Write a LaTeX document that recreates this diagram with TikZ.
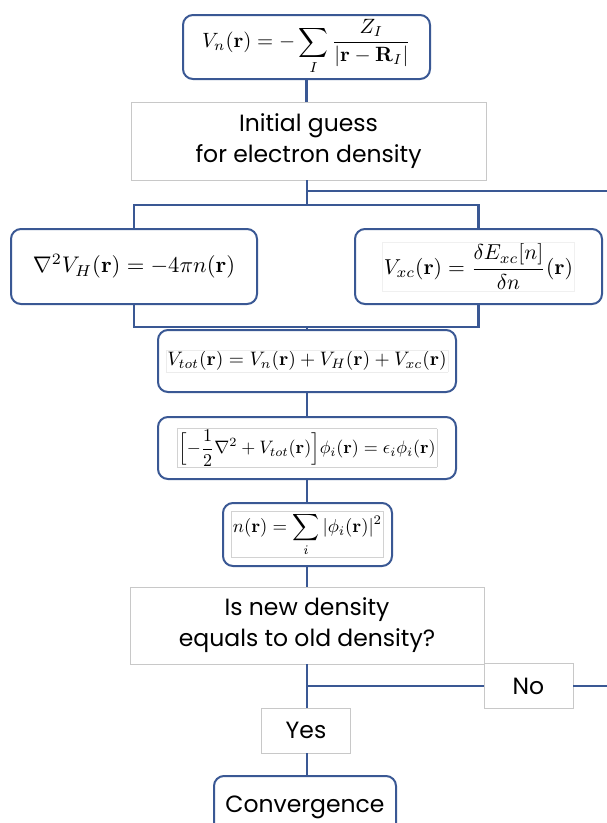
\documentclass[tikz,border=0pt]{standalone}
\usepackage{graphicx}
\usepackage{amsmath}
\usepackage[no-math]{fontspec}
\setmainfont{Poppins}
\definecolor{lineblue}{RGB}{58,88,148}
\definecolor{boxgray}{RGB}{200,200,200}
\newcommand{\gframe}[2]{{\setlength{\fboxrule}{0.4pt}\setlength{\fboxsep}{1.2pt}\fcolorbox{#1}{white}{#2}}}
\newcommand{\mscale}[2]{\scalebox{#1}{#2}}
\tikzset{
  mbox/.style={draw=lineblue, line width=2pt, rounded corners=10pt, fill=white, inner sep=0pt, align=center},
  tbox/.style={draw=boxgray, line width=0.8pt, fill=white, inner sep=0pt,
    font=\fontsize{23.5}{31}\selectfont, align=center},
  conn/.style={draw=lineblue, line width=2.5pt},
}
\begin{document}
\begin{tikzpicture}[x=1pt,y=-1pt]
\useasboundingbox (0,0) rectangle (607,823);
\clip (0,0) rectangle (607,823);
\fill[white] (0,0) rectangle (607,823);
\coordinate (j1) at (307,191);
\coordinate (r1) at (607,191);
\coordinate (j2) at (307,205);
\coordinate (j3) at (307,327);
\coordinate (j4) at (307,686);
\coordinate (r2) at (607,686);

\node[mbox, minimum width=247pt, minimum height=64pt] (vn) at (306.5,47)
  {\mscale{2.07}{$\displaystyle V_n(\mathbf{r}) = -\sum_I \frac{Z_I}{|\mathbf{r}-\mathbf{R}_I|}$}};
\node[tbox, minimum width=355pt, minimum height=78pt] (init) at (308.5,141)
  {Initial guess\\for electron density};
\node[mbox, minimum width=246pt, minimum height=75pt] (vh) at (134,266.5)
  {\mscale{2.26}{$\nabla^2 V_H(\mathbf{r}) = -4\pi n(\mathbf{r})$}};
\node[mbox, minimum width=247pt, minimum height=75pt] (vxc) at (478.5,266.5)
  {\gframe{gray!12}{\mscale{2.16}{$\displaystyle V_{xc}(\mathbf{r}) = \frac{\delta E_{xc}[n]}{\delta n}(\mathbf{r})$}}};
\node[mbox, minimum width=298pt, minimum height=62pt] (vtot) at (307,361)
  {\gframe{gray!15}{\mscale{1.95}{$V_{tot}(\mathbf{r}) = V_n(\mathbf{r}) + V_H(\mathbf{r}) + V_{xc}(\mathbf{r})$}}};
\node[mbox, minimum width=298pt, minimum height=62pt] (ks) at (307,448)
  {\gframe{gray!35}{\mscale{1.8}{$\displaystyle \Bigl[-\frac{1}{2}\nabla^2 + V_{tot}(\mathbf{r})\Bigr]\phi_i(\mathbf{r}) = \epsilon_i\phi_i(\mathbf{r})$}}};
\node[mbox, minimum width=169pt, minimum height=63pt] (nr) at (307.5,534.5)
  {\gframe{gray!35}{\mscale{1.87}{$\displaystyle n(\mathbf{r}) = \sum_i |\phi_i(\mathbf{r})|^2$}}};
\node[tbox, minimum width=354pt, minimum height=77pt] (dec) at (307,625.5)
  {Is new density\\equals to old density?};
\node[tbox, minimum width=89pt, minimum height=45pt] (no) at (528.5,686) {No};
\node[tbox, minimum width=89pt, minimum height=45pt] (yes) at (306,730.5) {Yes};
\node[mbox, minimum width=182pt, minimum height=64pt, font=\fontsize{23.5}{28}\selectfont] (conv) at (305,808) {\raisebox{7pt}{Convergence}};

\draw[conn] (vn.south) -- (vn.south |- init.north);
\draw[conn] (init.south -| j1) -- (j2);
\draw[conn] (j1) -- (r1);
\draw[conn] (vh.north) |- (j2) -| (vxc.north);
\draw[conn] (vh.south) |- (j3) -| (vxc.south);
\draw[conn] (j3) -- (j3 |- vtot.north);
\draw[conn] (vtot.south -| j3) -- (j3 |- ks.north);
\draw[conn] (ks.south -| j3) -- (j3 |- nr.north);
\draw[conn] (nr.south -| j3) -- (j3 |- dec.north);
\draw[conn] (dec.south -| j3) -- (j3 |- yes.north);
\draw[conn] (j4) -- (no.west);
\draw[conn] (no.east) -- (r2);
\draw[conn] (yes.south -| j3) -- (j3 |- conv.north);
\end{tikzpicture}
\end{document}
